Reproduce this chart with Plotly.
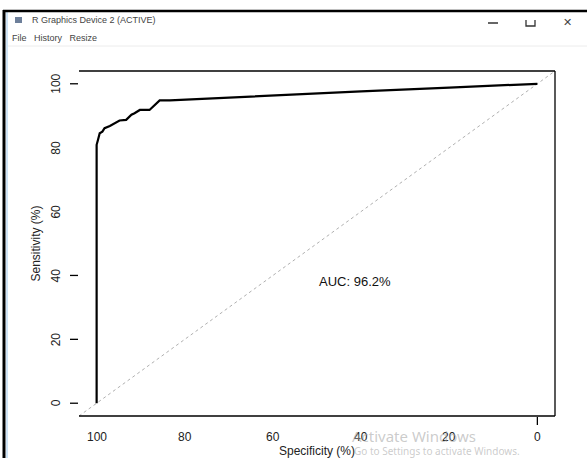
import plotly.graph_objects as go

# ROC curve data (percent)
specificity = [100, 100, 99.7, 99.3, 98.7, 98.2, 97.0, 95.9, 94.8, 93.3, 92.1, 91.4, 90.2, 88.0, 87.2, 85.7, 83.4, 60.0, 40.0, 20.0, 0.0]
sensitivity = [0, 80.9, 82.4, 84.5, 85.0, 86.1, 86.8, 87.7, 88.5, 88.7, 90.3, 90.8, 91.8, 91.8, 92.9, 94.8, 94.8, 96.4, 97.6, 98.8, 100]
x_ticks = [100, 80, 60, 40, 20, 0]
y_ticks = [0, 20, 40, 60, 80, 100]
y_ticks_marked = [0, 20, 40, 100]
x_ticks_marked = [0]
auc_text = "AUC: 96.2%"

W, H = 587, 458
L, R, T, B = 79, 555, 71, 416
XR = [104, -4]
YR = [-4, 104]

def px(xp):
    return (xp - L) / (R - L)

def py(yp):
    return (B - yp) / (B - T)

fig = go.Figure()

# diagonal reference line (across the whole plot region)
fig.add_trace(go.Scatter(x=[XR[0], XR[1]], y=[YR[0], YR[1]], mode="lines",
                         line=dict(color="#b0b0b0", width=1, dash="dot"),
                         hoverinfo="skip", showlegend=False))
# ROC curve
fig.add_trace(go.Scatter(x=specificity, y=sensitivity, mode="lines",
                         line=dict(color="black", width=2.2, shape="linear"),
                         showlegend=False))

shapes = []
# box: top, right, bottom
for x0, y0, x1, y1 in [(0, 1, 1, 1), (1, 0, 1, 1), (0, 0, 1, 0)]:
    shapes.append(dict(type="line", xref="paper", yref="paper", x0=x0, y0=y0, x1=x1, y1=y1,
                       line=dict(color="black", width=1.3)))
# y tick marks
for v in y_ticks_marked:
    shapes.append(dict(type="line", xref="paper", yref="y", x0=px(70), x1=px(78), y0=v, y1=v,
                       line=dict(color="black", width=1.3)))
# x tick marks
for v in x_ticks_marked:
    shapes.append(dict(type="line", xref="x", yref="paper", x0=v, x1=v, y0=py(417), y1=py(425),
                       line=dict(color="black", width=1.3)))

# window chrome
shapes.append(dict(type="line", xref="paper", yref="paper", x0=px(4), x1=px(4), y0=py(10), y1=py(460),
                   line=dict(color="black", width=3)))
shapes.append(dict(type="line", xref="paper", yref="paper", x0=px(7), x1=px(7), y0=py(12), y1=py(460),
                   line=dict(color="#cfe3f5", width=2)))
shapes.append(dict(type="line", xref="paper", yref="paper", x0=px(3), x1=px(590), y0=py(11), y1=py(11),
                   line=dict(color="black", width=2.5)))
shapes.append(dict(type="line", xref="paper", yref="paper", x0=px(8), x1=px(590), y0=py(46), y1=py(46),
                   line=dict(color="#ececec", width=1)))
# icon
shapes.append(dict(type="rect", xref="paper", yref="paper", x0=px(15), x1=px(22), y0=py(17), y1=py(23),
                   line=dict(width=0), fillcolor="#6d7f9a"))
# minimize / maximize / close
shapes.append(dict(type="line", xref="paper", yref="paper", x0=px(488), x1=px(498), y0=py(23), y1=py(23),
                   line=dict(color="#333", width=1.5)))
shapes.append(dict(type="path", xref="paper", yref="paper",
                   path=f"M {px(526)},{py(20)} L {px(526)},{py(26)} L {px(535)},{py(26)} L {px(535)},{py(20)}",
                   line=dict(color="#333", width=1.3)))

annotations = []
for v in x_ticks:
    annotations.append(dict(x=v, xref="x", y=py(437), yref="paper", text=str(v), showarrow=False,
                            font=dict(family="Liberation Sans, Arial", size=12, color="#222"),
                            xanchor="center", yanchor="middle"))
for v in y_ticks:
    annotations.append(dict(x=px(56), xref="paper", y=v, yref="y", text=str(v), showarrow=False,
                            textangle=-90, font=dict(family="Liberation Sans, Arial", size=12, color="#222"),
                            xanchor="center", yanchor="middle"))
annotations.append(dict(x=0.5, xref="paper", y=py(451), yref="paper", text="Specificity (%)", showarrow=False,
                        font=dict(family="Liberation Sans, Arial", size=12, color="#222"),
                        xanchor="center", yanchor="middle"))
annotations.append(dict(x=px(35), xref="paper", y=0.5, yref="paper", text="Sensitivity (%)", showarrow=False,
                        textangle=-90, font=dict(family="Liberation Sans, Arial", size=12, color="#222"),
                        xanchor="center", yanchor="middle"))
annotations.append(dict(x=50, xref="x", y=38, yref="y", text=auc_text, showarrow=False,
                        font=dict(family="Liberation Sans, Arial", size=13, color="#111"),
                        xanchor="left", yanchor="middle"))
# window title / menu / close button
annotations.append(dict(x=px(30), xref="paper", y=py(20), yref="paper", text="R Graphics Device 2 (ACTIVE)",
                        showarrow=False, font=dict(family="Liberation Sans, Arial", size=9, color="#444"),
                        xanchor="left", yanchor="middle"))
annotations.append(dict(x=px(10), xref="paper", y=py(38), yref="paper",
                        text="File&nbsp;&nbsp;&nbsp;History&nbsp;&nbsp;&nbsp;Resize",
                        showarrow=False, font=dict(family="Liberation Sans, Arial", size=9, color="#444"),
                        xanchor="left", yanchor="middle"))
annotations.append(dict(x=px(567), xref="paper", y=py(22), yref="paper", text="✕",
                        showarrow=False, font=dict(family="DejaVu Sans", size=11, color="#444"),
                        xanchor="center", yanchor="middle"))
# watermark
annotations.append(dict(x=px(350), xref="paper", y=py(436), yref="paper", text="Activate Windows",
                        showarrow=False, font=dict(family="Noto Sans, Liberation Sans", size=15, color="rgba(160,160,160,0.55)"),
                        xanchor="left", yanchor="middle"))
annotations.append(dict(x=px(352), xref="paper", y=py(451), yref="paper", text="Go to Settings to activate Windows.",
                        showarrow=False, font=dict(family="Noto Sans, Liberation Sans", size=10, color="rgba(160,160,160,0.55)"),
                        xanchor="left", yanchor="middle"))

fig.update_layout(
    width=W, height=H,
    margin=dict(l=L, r=W - R, t=T, b=H - B, pad=0),
    paper_bgcolor="white", plot_bgcolor="white",
    xaxis=dict(range=XR, showgrid=False, zeroline=False, showticklabels=False, ticks="", showline=False,
               fixedrange=True),
    yaxis=dict(range=YR, showgrid=False, zeroline=False, showticklabels=False, ticks="", showline=False,
               fixedrange=True),
    shapes=shapes, annotations=annotations, showlegend=False,
)

fig.write_html("out.html", config={"displayModeBar": False},
               post_script="document.body.style.margin='0';document.body.style.overflow='hidden';")
